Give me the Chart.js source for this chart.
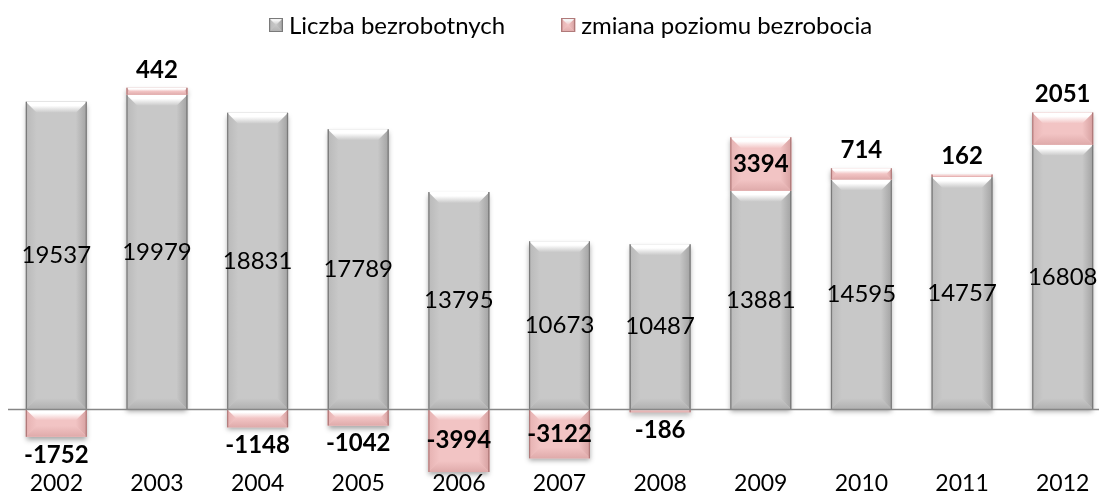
<!DOCTYPE html>
<html>
<head>
<meta charset="utf-8">
<script src="https://cdn.jsdelivr.net/npm/chart.js@4.4.1/dist/chart.umd.min.js"></script>
<style>
  html, body { margin: 0; padding: 0; background: #fff; overflow: hidden; }
  #wrap { width: 1099px; height: 495px; overflow: hidden; }
  canvas { display: block; }
</style>
</head>
<body>
<div id="wrap"><canvas id="chart" width="1114" height="495"></canvas></div>
<script>
(function () {
  "use strict";

  // ─── Data ───────────────────────────────────────────────────────────────────
  const years = ["2002", "2003", "2004", "2005", "2006", "2007", "2008", "2009", "2010", "2011", "2012"];
  const unemployed = [19537, 19979, 18831, 17789, 13795, 10673, 10487, 13881, 14595, 14757, 16808];
  const change = [-1752, 442, -1148, -1042, -3994, -3122, -186, 3394, 714, 162, 2051];
  const seriesNames = ["Liczba bezrobotnych", "zmiana poziomu bezrobocia"];

  const FONT = "Lato, 'Open Sans', sans-serif";

  // bevel palettes: grey column, pink change
  const palettes = [
    { base: "#c8c8c8", hi: "#ffffff", left: "#b9b9b9", right: "#a2a2a2", bottom: "#b0b0b0", edge: "#7a7a7a" },
    { base: "#f2c4c4", hi: "#ffffff", left: "#e6b2b2", right: "#d6a0a0", bottom: "#dfaaaa", edge: "#b07a7a" },
  ];

  // ─── Drawing helpers ────────────────────────────────────────────────────────

  function poly(ctx, pts, fill) {
    ctx.beginPath();
    ctx.moveTo(pts[0][0], pts[0][1]);
    for (let i = 1; i < pts.length; i++) ctx.lineTo(pts[i][0], pts[i][1]);
    ctx.closePath();
    ctx.fillStyle = fill;
    ctx.fill();
  }

  function barBox(bar) {
    const l = bar.x - bar.width / 2, r = bar.x + bar.width / 2;
    const t = Math.min(bar.y, bar.base), b = Math.max(bar.y, bar.base);
    return { l, r, t, b, h: b - t };
  }

  function drawBevelBar(ctx, bar, pal) {
    const { l, r, t, b, h } = barBox(bar);
    if (h < 0.5) return;
    const d = Math.min(11, h / 2, (r - l) / 2);
    ctx.save();
    ctx.fillStyle = pal.base;
    ctx.fillRect(l, t, r - l, h);

    let g = ctx.createLinearGradient(l, 0, l + d, 0);
    g.addColorStop(0, pal.left); g.addColorStop(1, pal.base);
    poly(ctx, [[l, t], [l + d, t + d], [l + d, b - d], [l, b]], g);

    g = ctx.createLinearGradient(r, 0, r - d, 0);
    g.addColorStop(0, pal.right); g.addColorStop(1, pal.base);
    poly(ctx, [[r, t], [r, b], [r - d, b - d], [r - d, t + d]], g);

    g = ctx.createLinearGradient(0, b, 0, b - d);
    g.addColorStop(0, pal.bottom); g.addColorStop(1, pal.base);
    poly(ctx, [[l, b], [r, b], [r - d, b - d], [l + d, b - d]], g);

    g = ctx.createLinearGradient(0, t, 0, t + d);
    g.addColorStop(0, pal.hi); g.addColorStop(0.35, pal.hi); g.addColorStop(1, pal.base);
    poly(ctx, [[l, t], [r, t], [r - d, t + d], [l + d, t + d]], g);

    // thin darker outline on the sides
    ctx.strokeStyle = pal.edge;
    ctx.lineWidth = 1.2;
    ctx.beginPath();
    ctx.moveTo(l + 0.6, t); ctx.lineTo(l + 0.6, b);
    ctx.moveTo(r - 0.6, t); ctx.lineTo(r - 0.6, b);
    ctx.stroke();
    ctx.restore();
  }

  // ─── Plugins ────────────────────────────────────────────────────────────────

  const bevelPlugin = {
    id: "bevel",
    beforeDatasetsDraw(chart) {
      // soft drop shadow behind every column
      const ctx = chart.ctx;
      ctx.save();
      ctx.shadowColor = "rgba(0,0,0,0.35)";
      ctx.shadowBlur = 5;
      ctx.shadowOffsetY = 3;
      ctx.fillStyle = "#bbbbbb";
      chart.data.datasets.forEach((ds, di) => {
        chart.getDatasetMeta(di).data.forEach((bar) => {
          const bx = barBox(bar);
          if (bx.h >= 0.5) ctx.fillRect(bx.l, bx.t, bx.r - bx.l, bx.h);
        });
      });
      ctx.restore();
    },
    afterDatasetsDraw(chart) {
      const ctx = chart.ctx;
      chart.data.datasets.forEach((ds, di) => {
        chart.getDatasetMeta(di).data.forEach((bar) => drawBevelBar(ctx, bar, palettes[di]));
      });
      // zero line
      const y0 = Math.round(chart.scales.y.getPixelForValue(0)) + 0.5;
      ctx.save();
      ctx.strokeStyle = "#868686";
      ctx.lineWidth = 1.5;
      ctx.beginPath();
      ctx.moveTo(chart.chartArea.left + 2, y0);
      ctx.lineTo(chart.chartArea.right, y0);
      ctx.stroke();
      ctx.restore();
    },
  };

  const labelPlugin = {
    id: "valueLabels",
    afterDraw(chart) {
      const ctx = chart.ctx;
      ctx.save();
      ctx.fillStyle = "#000";
      ctx.textAlign = "center";
      ctx.textBaseline = "middle";

      ctx.font = "24px " + FONT;
      chart.getDatasetMeta(0).data.forEach((bar, i) => {
        const bx = barBox(bar);
        ctx.fillText(String(unemployed[i]), bar.x, (bx.t + bx.b) / 2);
      });

      ctx.font = "bold 24px " + FONT;
      chart.getDatasetMeta(1).data.forEach((bar, i) => {
        const bx = barBox(bar);
        const v = change[i];
        let y;
        if (bx.h > 40) y = (bx.t + bx.b) / 2;
        else if (v >= 0) y = bx.t - 18;
        else y = bx.b + 18;
        ctx.fillText(String(v), bar.x, y);
      });
      ctx.restore();
    },
  };

  const legendPlugin = {
    id: "bevelLegend",
    afterDraw(chart) {
      const ctx = chart.ctx;
      const sq = 14, gap = 6, itemGap = 56, cy = 25, startX = 269;
      ctx.save();
      ctx.font = "24px " + FONT;
      ctx.textBaseline = "middle";
      ctx.textAlign = "left";
      let x = startX;
      seriesNames.forEach((name, i) => {
        const pal = palettes[i];
        const t = cy - sq / 2;
        drawBevelBar(ctx, { x: x + sq / 2, width: sq, y: t, base: t + sq }, Object.assign({}, pal, { hi: "#f4f4f4" }));
        ctx.strokeStyle = pal.edge;
        ctx.lineWidth = 1;
        ctx.strokeRect(x + 0.5, t + 0.5, sq - 1, sq - 1);
        ctx.fillStyle = "#000";
        ctx.fillText(name, x + sq + gap, cy + 1);
        x += sq + gap + ctx.measureText(name).width + itemGap;
      });
      ctx.restore();
    },
  };

  // ─── Chart ──────────────────────────────────────────────────────────────────

  new Chart(document.getElementById("chart"), {
    type: "bar",
    data: {
      labels: years,
      datasets: [
        { label: seriesNames[0], data: unemployed, backgroundColor: palettes[0].base, borderWidth: 0, clip: false },
        { label: seriesNames[1], data: change, backgroundColor: palettes[1].base, borderWidth: 0, clip: false },
      ],
    },
    options: {
      responsive: false,
      animation: false,
      devicePixelRatio: 1,
      layout: { padding: { top: 63, left: 6, right: 1, bottom: 0 } },
      datasets: { bar: { barPercentage: 0.606, categoryPercentage: 1 } },
      plugins: { legend: { display: false }, tooltip: { enabled: false } },
      scales: {
        x: {
          stacked: true,
          grid: { display: false, drawTicks: false },
          border: { display: false },
          ticks: { color: "#000", font: { family: FONT, size: 23, lineHeight: 1 }, padding: 0 },
        },
        y: {
          stacked: true,
          display: false,
          min: -3990,
          max: 22000,
        },
      },
    },
    plugins: [bevelPlugin, labelPlugin, legendPlugin],
  });
})();
</script>
</body>
</html>
